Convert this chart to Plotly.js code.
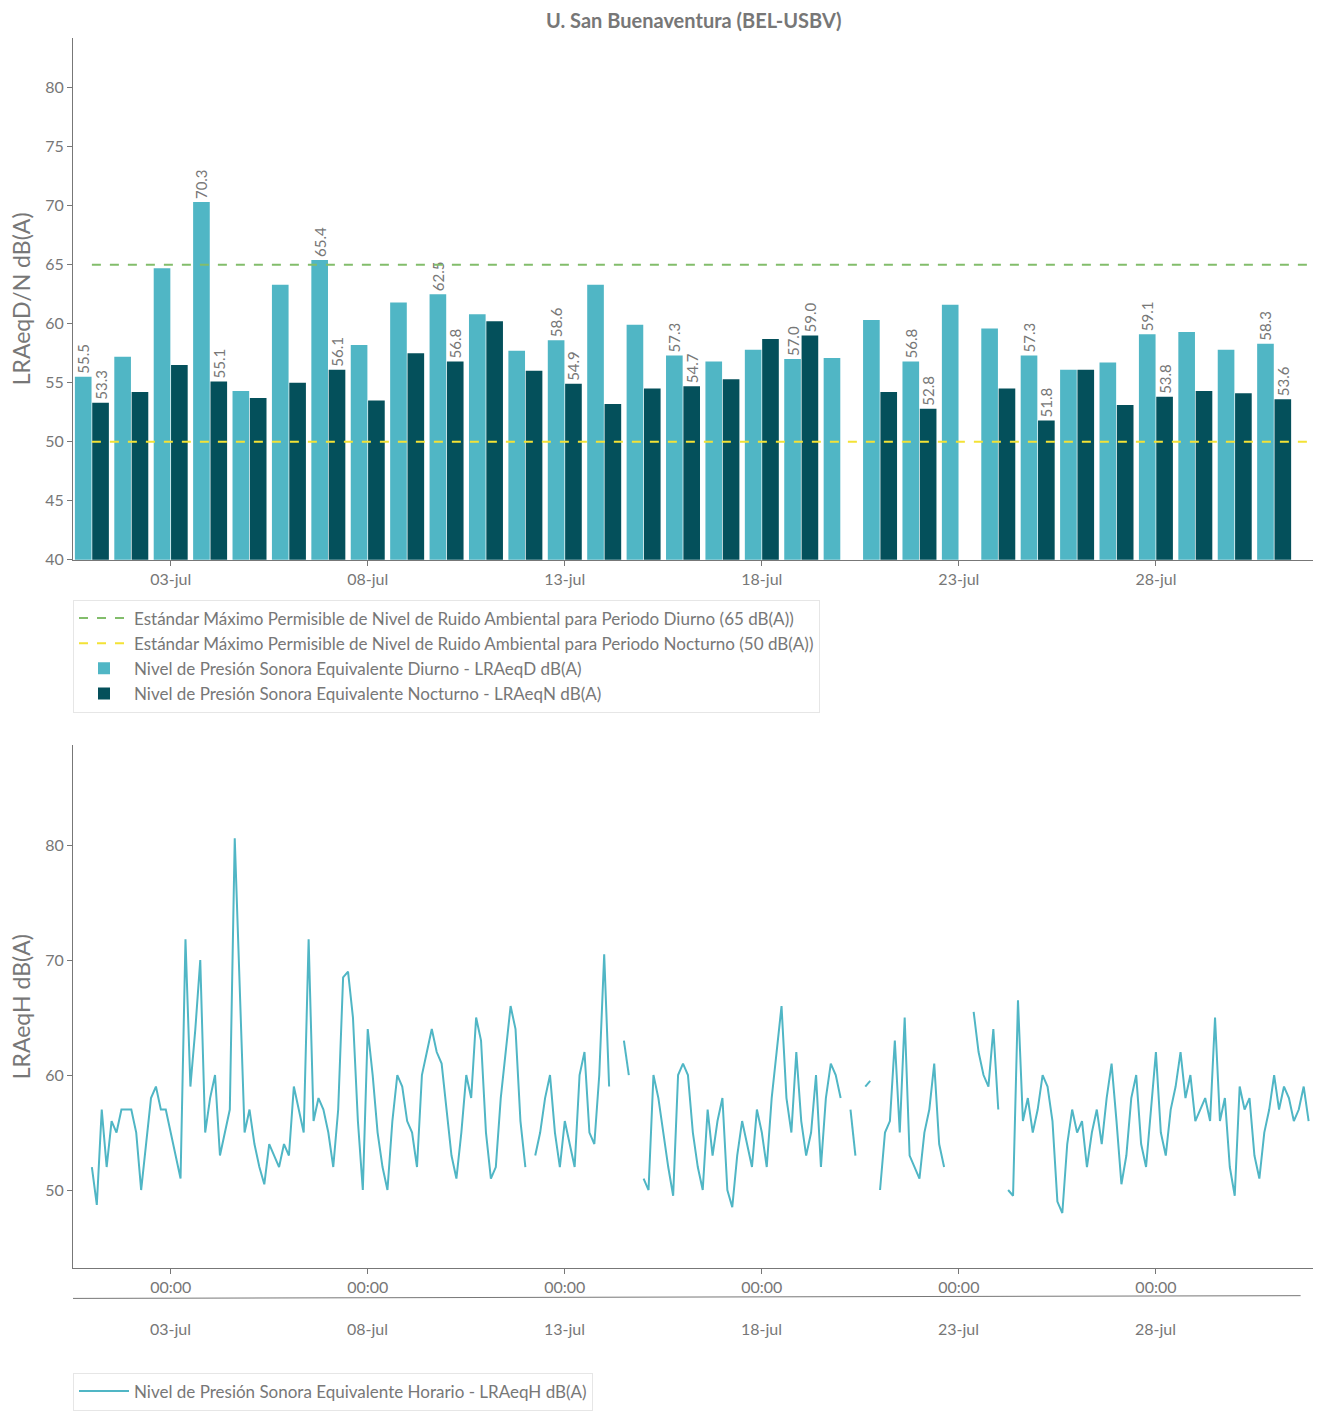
<!DOCTYPE html>
<html><head><meta charset="utf-8">
<script src="https://cdn.plot.ly/plotly-3.0.1.min.js"></script>
<style>body{margin:0;background:#fff}</style>
</head><body>
<div id="graph" style="width:1327px;height:1421px"></div>
<script>
/* ----- daily data ----- */
var days = [];
for (var d = 1; d <= 31; d++) days.push('2023-07-' + (d < 10 ? '0' + d : d));
var dayLevels = [55.5,57.2,64.7,70.3,54.3,63.3,65.4,58.2,61.8,62.5,60.8,57.7,58.6,63.3,59.9,57.3,
                 56.8,57.8,57.0,57.1,60.3,56.8,61.6,59.6,57.3,56.1,56.7,59.1,59.3,57.8,58.3];
var nightLevels = [53.3,54.2,56.5,55.1,53.7,55.0,56.1,53.5,57.5,56.8,60.2,56.0,54.9,53.2,54.5,54.7,
                   55.3,58.7,59.0,null,54.2,52.8,null,54.5,51.8,56.1,53.1,53.8,54.3,54.1,53.6];
var dayLimit = 65, nightLimit = 50;

/* ----- hourly data, one value every 3 hours ----- */
var hourly = [
 52,48.7,57,52,56,55,57,57,  57,55,50,54,58,59,57,57,  55,53,51,71.8,59,64,70,55,
 58,60,53,55,57,80.6,67,55,  57,54,52,50.5,54,53,52,54,  53,59,57,55,71.8,56,58,57,
 55,52,57,68.5,69,65,56,50,  64,60,55,52,50,56,60,59,  56,55,52,60,62,64,62,61,
 57,53,51,55,60,58,65,63,  55,51,52,58,62,66,64,56,  52,null,53,55,58,60,55,52,
 56,54,52,60,62,55,54,60,  70.5,59,null,null,63,60,null,null,  51,50,60,58,55,52,49.5,60,
 61,60,55,52,50,57,53,56,  58,50,48.5,53,56,54,52,57,  55,52,58,62,66,58,55,62,
 56,53,55,60,52,58,61,60,  58,null,57,53,null,59,59.5,null,  50,55,56,63,55,65,53,52,
 51,55,57,61,54,52,null,null,  52,null,null,65.5,62,60,59,64,  57,null,50,49.5,66.5,56,58,55,
 57,60,59,56,49,48,54,57,  55,56,52,55,57,54,58,61,  56,50.5,53,58,60,54,52,57,
 62,55,53,57,59,62,58,60,  56,57,58,56,65,56,58,52,  49.5,59,57,58,53,51,55,57,
 60,57,59,58,56,57,59,56
];
var hourTimes = [];
for (var i = 0; i < hourly.length; i++) {
    var t = new Date(Date.UTC(2023, 6, 1, 0, 0) + i * 3 * 3600 * 1000);
    hourTimes.push(t.toISOString().slice(0, 16).replace('T', ' '));
}

var tickDays = ['2023-07-03','2023-07-08','2023-07-13','2023-07-18','2023-07-23','2023-07-28'];
var tickDayText = ['03-jul','08-jul','13-jul','18-jul','23-jul','28-jul'];

var gray = '#777';
var labelEvery = 3;
function labels(vals) {
    return vals.map(function (v, i) { return (i % labelEvery === 0 && v !== null) ? v.toFixed(1) : ''; });
}

var data = [
    {x: [days[0], '2023-07-31 23:40'], y: [dayLimit, dayLimit], xaxis: 'x', yaxis: 'y', mode: 'lines',
     line: {color: '#82bd6b', dash: 'dash', width: 2}, legend: 'legend',
     name: 'Estándar Máximo Permisible de Nivel de Ruido Ambiental para Periodo Diurno (65 dB(A))'},
    {x: [days[0], '2023-07-31 23:40'], y: [nightLimit, nightLimit], xaxis: 'x', yaxis: 'y', mode: 'lines',
     line: {color: '#f3e236', dash: 'dash', width: 2}, legend: 'legend',
     name: 'Estándar Máximo Permisible de Nivel de Ruido Ambiental para Periodo Nocturno (50 dB(A))'},
    {x: days, y: dayLevels, type: 'bar', marker: {color: '#50b6c5'}, xaxis: 'x', yaxis: 'y',
     text: labels(dayLevels), textposition: 'outside', textangle: -90, cliponaxis: false,
     constraintext: 'none', textfont: {color: gray, size: 15}, legend: 'legend',
     name: 'Nivel de Presión Sonora Equivalente Diurno - LRAeqD dB(A)'},
    {x: days, y: nightLevels, type: 'bar', marker: {color: '#04505b'}, xaxis: 'x', yaxis: 'y',
     text: labels(nightLevels), textposition: 'outside', textangle: -90, cliponaxis: false,
     constraintext: 'none', textfont: {color: gray, size: 15}, legend: 'legend',
     name: 'Nivel de Presión Sonora Equivalente Nocturno - LRAeqN dB(A)'},
    {x: hourTimes, y: hourly, mode: 'lines', xaxis: 'x2', yaxis: 'y2', legend: 'legend2',
     line: {color: '#50b6c5', width: 2}, connectgaps: false,
     name: 'Nivel de Presión Sonora Equivalente Horario - LRAeqH dB(A)'}
];

var xr = ['2023-06-30 12:30', '2023-07-31 23:40'];
var axisCommon = {showgrid: false, zeroline: false, showline: true, linecolor: gray, ticks: 'outside',
                  tickcolor: gray, tickfont: {color: gray, size: 16}};

var annotations = tickDays.map(function (d, i) {
    return {x: d, y: 0.052, xref: 'x2', yref: 'paper', text: tickDayText[i], showarrow: false,
            font: {color: gray, size: 16}};
});
annotations.push({x: 0.5, y: 1.0, xref: 'paper', yref: 'paper', yanchor: 'bottom', yshift: 4,
                  text: '<b>U. San Buenaventura (BEL-USBV)</b>', showarrow: false,
                  font: {color: gray, size: 20}});

var layout = {
    font: {family: 'Lato, "Open Sans", sans-serif', color: gray},
    margin: {l: 73, r: 14, t: 38, b: 10},
    plot_bgcolor: '#fff', paper_bgcolor: '#fff',
    barmode: 'group', bargap: 0.12, bargroupgap: 0.04,
    uniformtext: {mode: 'show', minsize: 15},
    xaxis: Object.assign({}, axisCommon, {type: 'date', range: xr, anchor: 'y',
        tickvals: tickDays, ticktext: tickDayText}),
    yaxis: Object.assign({}, axisCommon, {domain: [0.62, 1], range: [40, 84.2], dtick: 5,
        title: {text: 'LRAeqD/N dB(A)', font: {size: 23, color: gray}, standoff: 8}}),
    xaxis2: Object.assign({}, axisCommon, {type: 'date', range: xr, anchor: 'y2',
        tickvals: tickDays, ticktext: tickDays.map(function () { return '00:00'; })}),
    yaxis2: Object.assign({}, axisCommon, {domain: [0.104, 0.485], range: [43.2, 88.7],
        tickvals: [50, 60, 70, 80],
        title: {text: 'LRAeqH dB(A)', font: {size: 23, color: gray}, standoff: 8}}),
    legend: {x: 0, y: 0.591, xanchor: 'left', yanchor: 'top', bordercolor: '#e6e6e6', borderwidth: 1,
             font: {size: 17, color: gray}, traceorder: 'normal', itemwidth: 50, tracegroupgap: 0},
    legend2: {x: 0, y: 0.028, xanchor: 'left', yanchor: 'top', bordercolor: '#e6e6e6', borderwidth: 1,
              font: {size: 17, color: gray}, itemwidth: 50},
    shapes: [{type: 'line', xref: 'paper', yref: 'paper', x0: 0, x1: 0.99, y0: 0.082, y1: 0.084,
              line: {color: gray, width: 1}}],
    annotations: annotations
};

Plotly.newPlot('graph', data, layout, {staticPlot: true});
</script>
</body></html>
